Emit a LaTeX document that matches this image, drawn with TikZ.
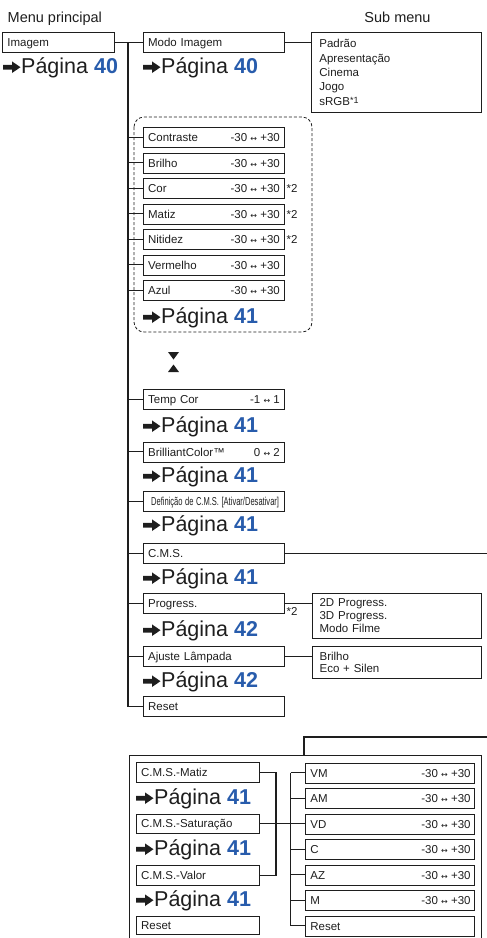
\documentclass[tikz,border=0pt]{standalone}
\usepackage{fontspec}
\setmainfont{Liberation Sans}
\newfontfamily\dejavu{DejaVu Sans}
\usepackage{graphicx}
\usetikzlibrary{calc}
\definecolor{numblue}{RGB}{40,92,172}
\definecolor{ink}{RGB}{30,30,30}
\newcommand\lrarr{{\dejavu\fontsize{8}{8}\selectfont ↔}}
\newcommand\pagina[4]{%
  \fill[ink] (#2,#3-3.4) -- (#2+9,#3-3.4) -- (#2+9,#3) -- (#2+17.5,#3-5.8) -- (#2+9,#3-11.6) -- (#2+9,#3-8.2) -- (#2,#3-8.2) -- cycle;
  \node[pgtext, anchor=base west] (#1) at (#2+18,#3) {Página \textcolor{numblue}{\textbf{#4}}};%
}
\newcommand\mitem[4]{%
  \node[mainbx] (#1) at (142.7,#2) {#3};
  \node[val, anchor=base east] (#1v) at ($(#1.base east)+(-4.5,0)$) {#4};%
}
\newcommand\ritem[3]{%
  \node[cmsr] (#1) at (305,#2) {#3};
  \node[val, anchor=base east] (#1v) at ($(#1.base east)+(-4.3,0)$) {-30 \lrarr{} +30};%
}
\begin{document}
\begin{tikzpicture}[x=1pt,y=-1pt,
 bxbase/.style={draw=ink, line width=0.8pt, anchor=north west, minimum height=20pt, inner xsep=5pt, inner ysep=0pt, align=left, text=ink, font=\fontsize{11.5}{13}\selectfont},
 bx/.style={bxbase, text height=9.5pt, text depth=0.9pt},
 mainbx/.style={bx, text width=131pt},
 subbx/.style={bxbase, inner xsep=8pt},
 cmsl/.style={bx, text width=113.6pt, minimum height=19.5pt},
 cmsr/.style={bx, text width=159.3pt},
 val/.style={inner sep=0pt, text=ink, font=\fontsize{11.5}{13}\selectfont},
 note/.style={inner sep=0pt, text=ink, font=\fontsize{11.5}{13}\selectfont},
 conn/.style={draw=ink, line width=1.1pt},
 hdr/.style={inner sep=0pt, text=ink, font=\fontsize{14.5}{16}\selectfont},
 pgtext/.style={inner sep=0pt, text=ink, font=\fontsize{21.5}{24}\selectfont},
 groupframe/.style={draw=ink, line width=0.8pt, dash pattern=on 3pt off 2pt, rounded corners=10pt},
 openframe/.style={draw=ink, line width=0.9pt}
]
\useasboundingbox (0,0) rectangle (487,938);

% headers
\node[hdr, anchor=base west] (hmenu) at (7.5,22) {Menu principal};
\node[hdr, anchor=base] (hsub) at (397.5,22.5) {Sub menu};

% top row
\node[bx, text width=102pt] (imagem) at (2,32) {Imagem};
\pagina{p40a}{3}{73}{40}
\node[mainbx] (modo) at (142.7,32) {Modo Imagem};
\pagina{p40b}{143}{73}{40}
\node[subbx, text width=154pt, minimum height=80pt, font=\fontsize{11.5}{14.3}\selectfont] (modosub) at (311,32)
  {Padrão\\Apresentação\\Cinema\\Jogo\\sRGB\raisebox{2pt}{\fontsize{9}{9}\selectfont *1}};
\draw[conn] (imagem.east) -- (modo.west);
\draw[conn] (modo.east) -- (modo.east -| modosub.west);

% grouped picture settings
\draw[groupframe] (134,117) rectangle (312,332);
\mitem{contraste}{127}{Contraste}{-30 \lrarr{} +30}
\mitem{brilho}{152.5}{Brilho}{-30 \lrarr{} +30}
\mitem{cor}{178}{Cor}{-30 \lrarr{} +30}
\mitem{matiz}{203.5}{Matiz}{-30 \lrarr{} +30}
\mitem{nitidez}{229}{Nitidez}{-30 \lrarr{} +30}
\mitem{vermelho}{254.5}{Vermelho}{-30 \lrarr{} +30}
\mitem{azul}{280}{Azul}{-30 \lrarr{} +30}
\node[note, anchor=base west] (ncor) at ($(cor.east)+(2,4.4)$) {*2};
\node[note, anchor=base west] (nmatiz) at ($(matiz.east)+(2,4.2)$) {*2};
\node[note, anchor=base west] (nnit) at ($(nitidez.east)+(2,4.2)$) {*2};
\pagina{p41a}{143}{323}{41}

% hourglass
\fill[ink] (168,352) -- (179,352) -- (173.5,359.5) -- cycle;
\fill[ink] (168,372) -- (179,372) -- (173.5,364.5) -- cycle;

\mitem{tempcor}{389}{Temp Cor}{-1 \lrarr{} 1}
\pagina{p41b}{143}{432}{41}
\mitem{brilliant}{441.5}{BrilliantColor™}{0 \lrarr{} 2}
\pagina{p41c}{143}{482}{41}
\node[mainbx] (defcms) at (142.7,491) {\hspace*{3pt}\resizebox{128pt}{\height}{Definição de C.M.S. [Ativar/Desativar]}};
\pagina{p41d}{143}{531}{41}
\node[mainbx] (cms) at (142.7,543) {C.M.S.};
\pagina{p41e}{143}{584}{41}
\node[mainbx] (progress) at (142.7,593) {Progress.};
\pagina{p42a}{143}{636}{42}
\node[mainbx] (ajuste) at (142.7,646) {Ajuste Lâmpada};
\pagina{p42b}{143}{687}{42}
\node[mainbx] (reset) at (142.7,696) {Reset};

\node[subbx, inner xsep=7.5pt, text width=154.3pt, minimum height=45pt, font=\fontsize{11.5}{13}\selectfont] (progsub) at (311.7,593)
  {2D Progress.\\3D Progress.\\Modo Filme};
\node[note, anchor=base west] (nprog) at (286.5,615.5) {*2};
\node[subbx, inner xsep=7.5pt, text width=154.3pt, minimum height=32pt, font=\fontsize{11.5}{12.4}\selectfont] (ajsub) at (311.7,646)
  {Brilho\\Eco + Silen};
\draw[conn] (progress.east) -- (progress.east -| progsub.west);
\draw[conn] (ajuste.east) -- (ajuste.east -| ajsub.west);

% main trunk
\coordinate (mtop) at (128,42);
\draw[conn] (mtop) |- (reset.west);
\foreach \n in {contraste,brilho,cor,matiz,nitidez,vermelho,azul,tempcor,brilliant,defcms,cms,progress,ajuste}
  \draw[conn] (\n.west -| mtop) -- (\n.west);

% C.M.S. branch
\coordinate (redgeA) at (487,553);
\draw[conn] (cms.east) -- (cms.east -| redgeA);
\coordinate (redgeB) at (487,737);
\coordinate (jn) at (304,737);
\coordinate (ftop) at (304,755);
\draw[conn] (redgeB) -- (jn) -- (ftop);
\draw[openframe] (129,938) -- (129,755) -- (481,755) -- (481,938);

% C.M.S. submenu
\node[cmsl] (cmatiz) at (135.7,762.3) {C.M.S.-Matiz};
\pagina{p41f}{136}{804}{41}
\node[cmsl] (csat) at (135.7,813.5) {C.M.S.-Saturação};
\pagina{p41g}{136}{855}{41}
\node[cmsl] (cvalor) at (135.7,865) {C.M.S.-Valor};
\pagina{p41h}{136}{906}{41}
\node[cmsl, minimum height=18.6pt] (creset) at (135.7,915.7) {Reset};

\ritem{vm}{762.5}{VM}
\ritem{am}{788}{AM}
\ritem{vd}{813.5}{VD}
\ritem{cc}{839}{C}
\ritem{az}{864.5}{AZ}
\ritem{mm}{890}{M}
\node[cmsr] (rreset) at (305,915.5) {Reset};

\coordinate (lj) at (276,772);
\draw[conn] (cmatiz.east) -- (cmatiz.east -| lj) -- (cvalor.east -| lj) -- (cvalor.east);
\draw[conn] (csat.east) -- (csat.east -| vd.west);
\coordinate (rj) at (290.7,772);
\draw[conn] (vm.west -| rj) |- (rreset.west);
\foreach \n in {vm,am,vd,cc,az,mm}
  \draw[conn] (\n.west -| rj) -- (\n.west);
\end{tikzpicture}
\end{document}
